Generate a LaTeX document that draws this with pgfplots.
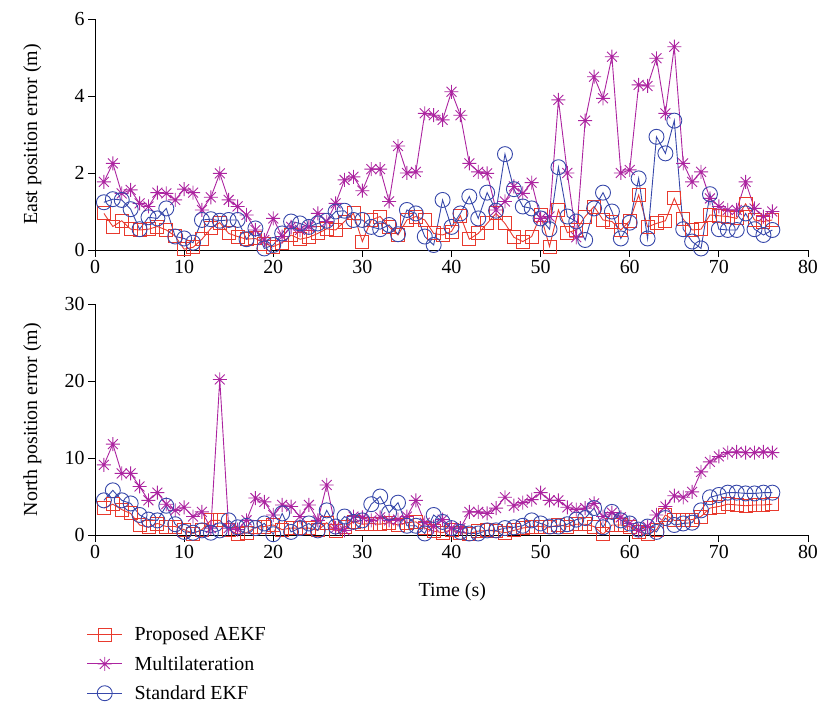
\documentclass[border=0pt]{standalone}
\usepackage{fontspec}
\setmainfont{Liberation Serif}
\usepackage{pgfplots}
\usepackage{pgfplotstable}
\pgfplotsset{compat=1.18}
\definecolor{cRed}{RGB}{232,58,46}
\definecolor{cMag}{RGB}{172,36,160}
\definecolor{cBlue}{RGB}{55,72,170}
\newcommand\chartfont{\fontsize{20}{23}\selectfont}
\pgfdeclareplotmark{star8}{%
  \pgfpathmoveto{\pgfqpoint{0pt}{\pgfplotmarksize}}\pgfpathlineto{\pgfqpoint{0pt}{-\pgfplotmarksize}}%
  \pgfpathmoveto{\pgfqpoint{\pgfplotmarksize}{0pt}}\pgfpathlineto{\pgfqpoint{-\pgfplotmarksize}{0pt}}%
  \pgfpathmoveto{\pgfqpoint{0.707\pgfplotmarksize}{0.707\pgfplotmarksize}}\pgfpathlineto{\pgfqpoint{-0.707\pgfplotmarksize}{-0.707\pgfplotmarksize}}%
  \pgfpathmoveto{\pgfqpoint{-0.707\pgfplotmarksize}{0.707\pgfplotmarksize}}\pgfpathlineto{\pgfqpoint{0.707\pgfplotmarksize}{-0.707\pgfplotmarksize}}%
  \pgfusepathqstroke}
\pgfplotstableread{
t  ea    em    eb    na    nm    nb
1  0.95  1.77  1.24  3.5   9.1   4.5
2  0.61  2.25  1.32  4.0   11.8  5.8
3  0.76  1.47  1.30  3.3   8.0   4.5
4  0.54  1.56  1.06  2.8   8.0   4.1
5  0.52  1.21  0.54  1.3   6.3   2.6
6  0.54  1.13  0.85  1.0   4.5   2.0
7  0.61  1.49  0.82  1.5   5.5   1.9
8  0.52  1.47  1.08  1.1   4.0   3.8
9  0.36  1.30  0.35  1.1   3.2   1.4
10 0.02  1.58  0.30  0.7   3.6   0.4
11 0.07  1.49  0.19  0.2   2.4   0.3
12 0.28  1.04  0.78  0.7   3.0   0.6
13 0.56  1.37  0.80  1.9   0.9   0.3
14 0.71  1.99  0.76  1.9   20.2  0.6
15 0.43  1.30  0.78  0.7   0.9   1.9
16 0.35  1.13  0.78  0.1   0.7   1.0
17 0.28  0.91  0.28  0.3   1.9   1.2
18 0.30  0.52  0.56  1.0   4.8   0.9
19 0.17  0.26  0.04  1.1   4.3   1.5
20 0.09  0.82  0.13  1.3   2.6   0.1
21 0.19  0.35  0.43  0.7   3.9   2.8
22 0.39  0.60  0.74  0.9   3.7   0.4
23 0.28  0.52  0.69  0.9   2.4   0.9
24 0.33  0.60  0.60  0.9   3.9   1.5
25 0.43  0.95  0.69  0.6   1.9   0.6
26 0.55  0.74  0.76  1.6   6.5   3.2
27 0.52  1.21  1.00  0.5   0.9   1.1
28 0.74  1.82  1.02  1.0   0.6   2.4
29 0.95  1.90  0.78  1.7   2.4   1.7
30 0.22  1.54  0.78  1.4   2.3   1.9
31 0.78  2.10  0.60  1.5   1.9   4.0
32 0.87  2.10  0.54  1.4   2.3   5.0
33 0.60  1.26  0.65  1.6   1.9   2.9
34 0.39  2.70  0.41  1.3   2.0   4.2
35 0.78  2.00  1.04  1.6   2.4   1.2
36 0.87  2.03  0.95  1.7   4.5   1.2
37 0.78  3.55  0.35  0.9   1.6   0.2
38 0.43  3.50  0.13  0.5   1.1   2.6
39 0.39  3.38  1.30  0.3   2.0   1.7
40 0.48  4.11  0.60  0.7   0.9   0.9
41 0.89  3.50  0.95  0.3   0.9   0.4
42 0.28  2.25  1.39  0.2   3.0   0.2
43 0.43  2.03  0.82  0.5   3.0   0.2
44 0.69  1.99  1.49  0.6   2.8   0.6
45 0.95  1.04  1.02  0.5   3.5   0.6
46 0.69  1.26  2.49  0.3   4.9   0.9
47 0.33  1.65  1.58  0.6   3.8   1.0
48 0.22  1.47  1.13  0.9   4.2   1.2
49 0.35  1.75  1.08  1.1   4.6   1.9
50 0.91  0.82  0.82  1.1   5.5   1.5
51 0.09  0.87  0.54  1.0   4.5   1.1
52 1.04  3.90  2.15  1.3   4.5   1.1
53 0.45  2.00  0.87  1.1   3.6   1.4
54 0.52  0.33  0.74  1.4   3.3   2.0
55 0.87  3.36  0.26  1.4   3.5   2.2
56 1.13  4.50  1.08  1.1   4.1   3.5
57 0.78  3.94  1.49  0.1   2.4   1.0
58 0.74  5.02  1.00  1.3   2.9   3.0
59 0.52  2.00  0.30  1.3   2.3   1.9
60 0.76  2.08  0.71  1.1   1.5   1.5
61 1.43  4.29  1.86  0.4   0.6   0.7
62 0.60  4.26  0.30  0.1   1.1   1.1
63 0.69  4.98  2.94  0.7   2.6   0.4
64 0.76  3.55  2.51  2.6   3.7   2.2
65 1.34  5.28  3.36  1.9   5.1   1.3
66 0.80  2.25  0.54  1.9   4.9   1.5
67 0.52  1.77  0.22  2.0   5.6   1.6
68 0.54  2.03  0.04  2.4   8.2   3.2
69 0.91  1.34  1.45  3.5   9.5   4.9
70 0.89  1.13  0.54  3.7   10.2  5.2
71 0.87  1.04  0.52  4.0   10.7  5.5
72 0.82  1.04  0.52  3.9   10.8  5.5
73 1.20  1.77  0.95  3.8   10.7  5.4
74 0.78  1.08  0.54  3.9   10.7  5.4
75 0.74  0.87  0.39  3.9   10.8  5.5
76 0.78  1.00  0.52  4.0   10.7  5.5
}\data
\pgfplotsset{myax/.style={
  width=713bp, height=231bp, scale only axis,
  xmin=0, xmax=80, xtick={0,10,...,80},
  axis lines=left, axis line style={-, line width=0.9bp, black},
  tick align=outside, major tick length=7bp,
  tick style={line width=0.9bp, black},
  minor tick num=0,
  clip=false,
  font=\chartfont, tick label style={font=\chartfont}, label style={font=\chartfont},
  /pgf/number format/assume math mode=true,
  ylabel style={at={(axis description cs:-0.088,0.5)}, anchor=center},
  every axis plot/.append style={line width=0.9bp, mark options={solid, line width=0.9bp}},
  legend image code/.code={\draw[mark repeat=2,mark phase=2] plot coordinates {(0bp,0bp) (17.5bp,0bp) (35bp,0bp)}; \path (45bp,0bp);},
}}
\begin{document}
\begin{tikzpicture}
\useasboundingbox (0,0) rectangle (821bp,705bp);
\begin{axis}[myax, at={(95bp,455bp)}, anchor=south west,
  ymin=0, ymax=6, ytick={0,2,4,6},
  ylabel={East position error (m)}]
\addplot[cRed, mark=square, mark size=6.5bp] table[x=t, y=ea] {\data};
\addplot[cMag, mark=star8, mark size=7bp] table[x=t, y=em] {\data};
\addplot[cBlue, mark=o, mark size=7.5bp] table[x=t, y=eb] {\data};
\end{axis}
\begin{axis}[myax, at={(95bp,170bp)}, anchor=south west,
  ymin=0, ymax=30, ytick={0,10,20,30},
  ylabel={North position error (m)},
  xlabel={Time (s)},
  xlabel style={at={(axis description cs:0.501,-0.247)}, anchor=center},
  legend style={at={(axis description cs:-0.016,-0.38)}, anchor=north west, draw=none, fill=none, font=\chartfont, row sep=10bp},
  legend cell align=left]
\addplot[cRed, mark=square, mark size=6.5bp] table[x=t, y=na] {\data};
\addlegendentry{Proposed AEKF}
\addplot[cMag, mark=star8, mark size=7bp] table[x=t, y=nm] {\data};
\addlegendentry{Multilateration}
\addplot[cBlue, mark=o, mark size=7.5bp] table[x=t, y=nb] {\data};
\addlegendentry{Standard EKF}
\end{axis}
\end{tikzpicture}
\end{document}
